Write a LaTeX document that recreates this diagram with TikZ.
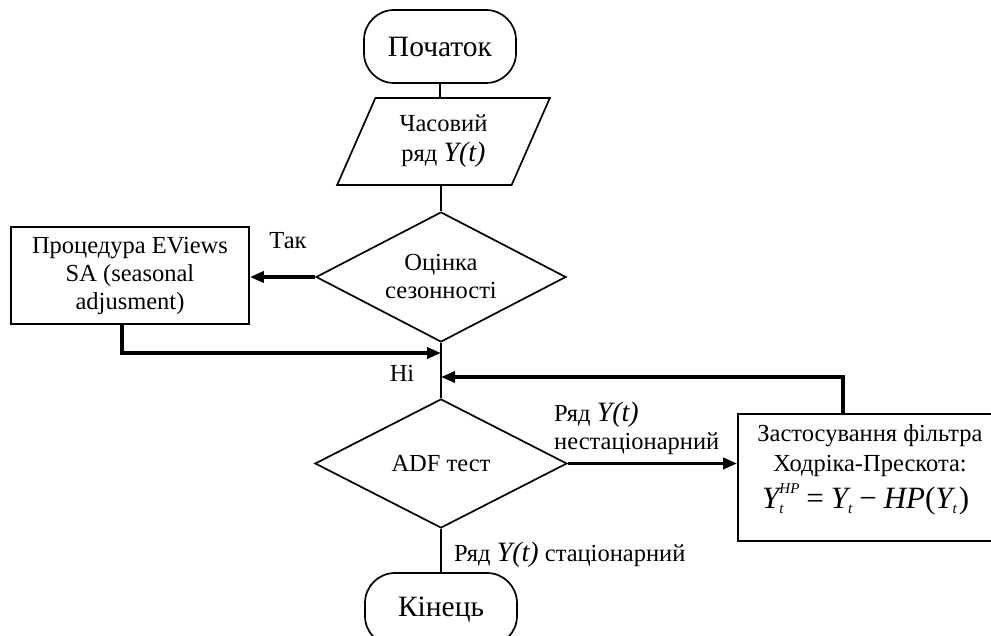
\documentclass[tikz,border=0pt]{standalone}
\usepackage{fontspec}
\setmainfont{Liberation Serif}
\usetikzlibrary{shapes.geometric,arrows.meta}
\newcommand{\bodyfont}{\fontsize{24.5}{28}\selectfont}
\newcommand{\yt}{{\fontsize{28}{28}\selectfont\itshape Y(t)}}
\newcommand{\smallit}[1]{{\fontsize{15}{15}\selectfont\itshape #1}}
\newcommand{\bigY}{{\itshape Y}}
\newcommand{\subt}{\raisebox{-5pt}{\smallit{t}}}
\begin{document}
\begin{tikzpicture}[x=1pt,y=-1pt,
  thinline/.style={line width=1.7pt},
  thickarrow/.style={line width=3.8pt,-{Triangle[length=14pt,width=11pt]}},
  term/.style={draw,line width=1.7pt,rounded corners=30pt,minimum width=152pt,minimum height=73pt,inner sep=0pt,font=\fontsize{29.5}{30}\selectfont},
  proc/.style={draw,line width=1.7pt,inner sep=0pt,align=center,font=\bodyfont},
  decision/.style={diamond,draw,line width=1.7pt,inner sep=0pt,aspect=1.9,align=center,font=\bodyfont},
  iodata/.style={trapezium,trapezium left angle=65,trapezium right angle=115,trapezium stretches=true,draw,line width=1.7pt,inner sep=0pt,align=center,font=\fontsize{24.5}{30}\selectfont},
  lbl/.style={inner sep=0pt,align=left,font=\bodyfont}]
\clip (0,0) rectangle (991,636);
\fill[white] (0,0) rectangle (991,636);

\node[term] (start) at (440,46.5) {Початок};
\node[iodata,minimum width=213pt,minimum height=87pt] (data) at (443.5,141.5) {Часовий\\ряд \yt};
\node[decision,minimum width=250pt,minimum height=130pt] (season) at (441,277) {Оцінка\\сезонності};
\node[proc,minimum width=238pt,minimum height=97pt] (sa) at (130,275.5) {Процедура EViews\\SA (seasonal\\adjusment)};
\node[decision,minimum width=252pt,minimum height=129pt] (adf) at (441,463.5) {ADF тест};
\node[proc,minimum width=264pt,minimum height=127pt] (hp) at (870,477.5) {};
\node[lbl,anchor=center] (hp1) at (870,436) {Застосування фільтра};
\node[lbl,anchor=center] (hp2) at (870,466) {Ходріка-Прескота:};
\node[inner sep=0pt,font=\fontsize{31}{31}\selectfont,anchor=base west] (hp3) at (762,508)
  {\bigY\rlap{\subt}\raisebox{15pt}{\smallit{HP}}\hspace{7pt}=\hspace{7pt}\bigY\subt\hspace{7pt}−\hspace{7pt}{\itshape HP}(\bigY\subt\kern2pt)};
\node[term] (end) at (441,609.5) {Кінець};

\coordinate (j1) at (441,353);
\coordinate (j2) at (441,377);

% thin flow lines
\draw[thinline] (start.south) -- (start.south |- data.north);
\draw[thinline] (season.north |- data.south) -- (season.north);
\draw[thinline] (season.south) -- (adf.north);
\draw[thinline] (adf.south) -- (end.north);

% thick arrows
\draw[thickarrow] (season.west) -- (season.west -| sa.east);
\draw[thickarrow] ([xshift=-8pt]sa.south) |- (j1);
\draw[thickarrow] (adf.east) -- (adf.east -| hp.west);
\draw[thickarrow] ([xshift=-27pt]hp.north) |- (j2);

% labels
\node[lbl] (tak) at (288,241) {Так};
\node[lbl] (ni) at (402,373) {Ні};
\node[lbl,anchor=west] (nst) at (554,428) {Ряд \yt\\нестаціонарний};
\node[lbl,anchor=west] (st) at (454,555) {Ряд \yt{} стаціонарний};
\end{tikzpicture}
\end{document}
